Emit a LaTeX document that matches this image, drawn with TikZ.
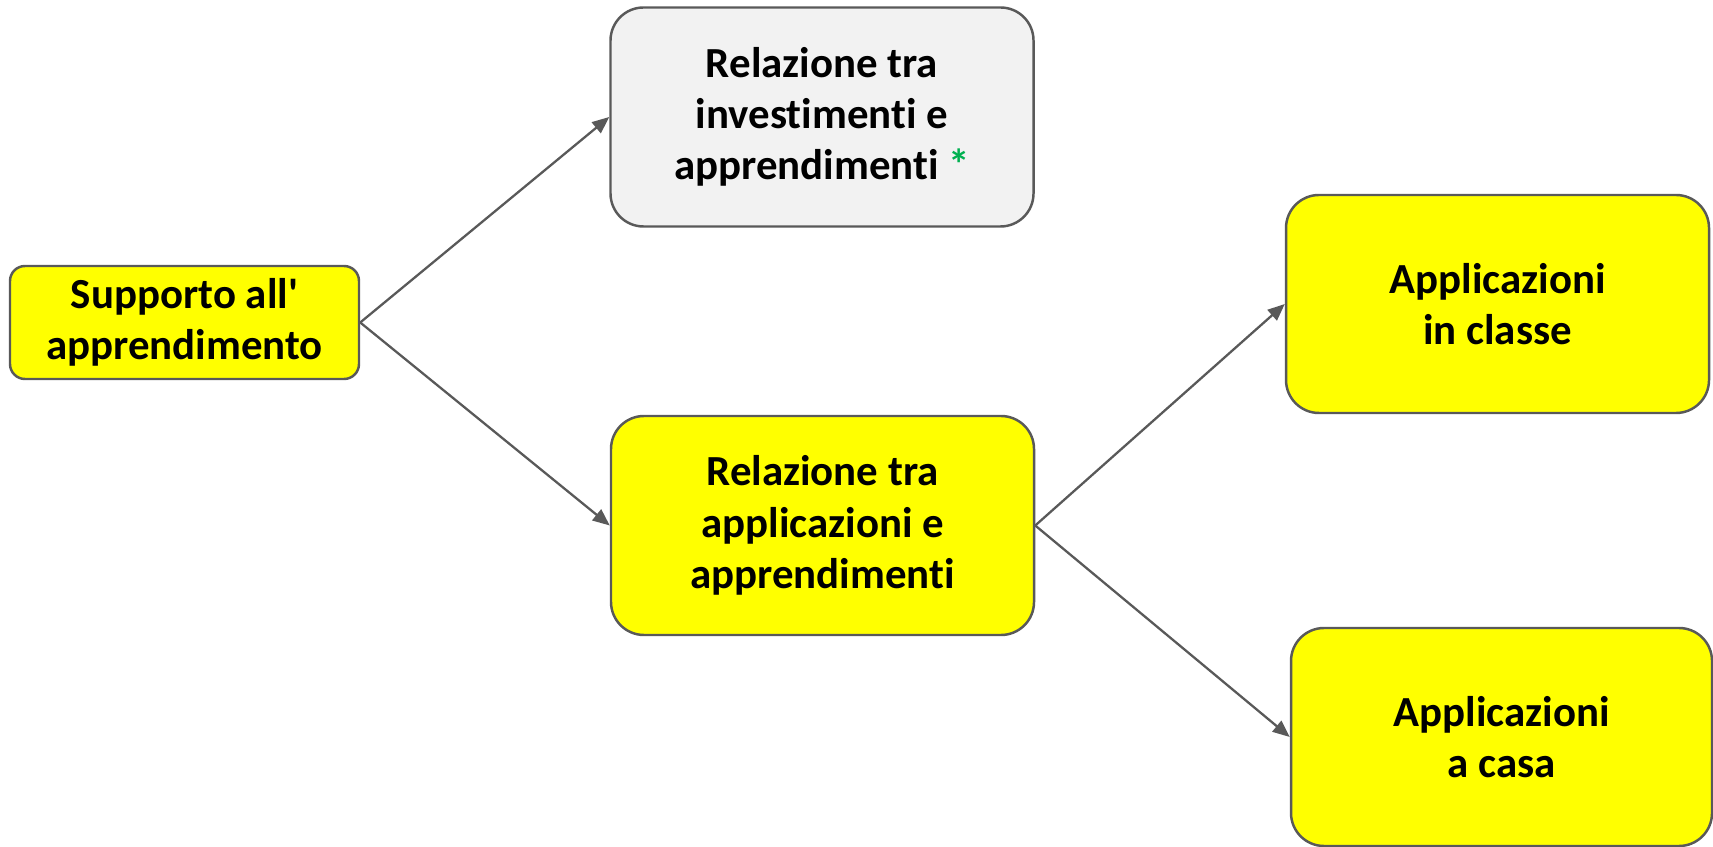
\documentclass[tikz,border=0pt]{standalone}
\usepackage{fontspec}
\setmainfont[Ligatures={TeX,NoCommon}]{Carlito}
\usetikzlibrary{arrows.meta}
\definecolor{bordo}{HTML}{595959}
\definecolor{giallo}{HTML}{FFFF00}
\definecolor{grigio}{HTML}{F2F2F2}
\definecolor{verde}{HTML}{00B050}
\begin{document}
\begin{tikzpicture}[
    yellowbox/.style={draw=bordo,line width=0.7pt,fill=giallo,rounded corners=0.33cm,
        minimum width=4.23cm,minimum height=2.19cm,inner sep=0pt,align=center,
        font=\fontsize{12.2}{14.6}\selectfont\bfseries},
    greybox/.style={yellowbox,fill=grigio},
    link/.style={draw=bordo,line width=0.65pt,-{Triangle[length=0.17cm,width=0.14cm]}}
]
    \useasboundingbox (0,0) rectangle (17.13,-8.47);
    \node[yellowbox,minimum width=3.49cm,minimum height=1.13cm,rounded corners=0.15cm] (supp) at (1.845,-3.225) {Supporto all\textquotesingle\\apprendimento};
    \node[greybox] (inv) at (8.22,-1.17) {Relazione tra\\investimenti e\\apprendimenti {\color{verde}*}};
    \node[yellowbox] (app) at (8.225,-5.255) {Relazione tra\\applicazioni e\\apprendimenti};
    \node[yellowbox,minimum height=2.18cm] (cls) at (14.975,-3.04) {Applicazioni\\in classe};
    \node[yellowbox,minimum width=4.21cm,minimum height=2.18cm] (casa) at (15.015,-7.37) {Applicazioni\\a casa};
    \draw[link] (supp.east) -- (inv.west);
    \draw[link] (supp.east) -- (app.west);
    \draw[link] (app.east) -- (cls.west);
    \draw[link] (app.east) -- (casa.west);
\end{tikzpicture}
\end{document}
